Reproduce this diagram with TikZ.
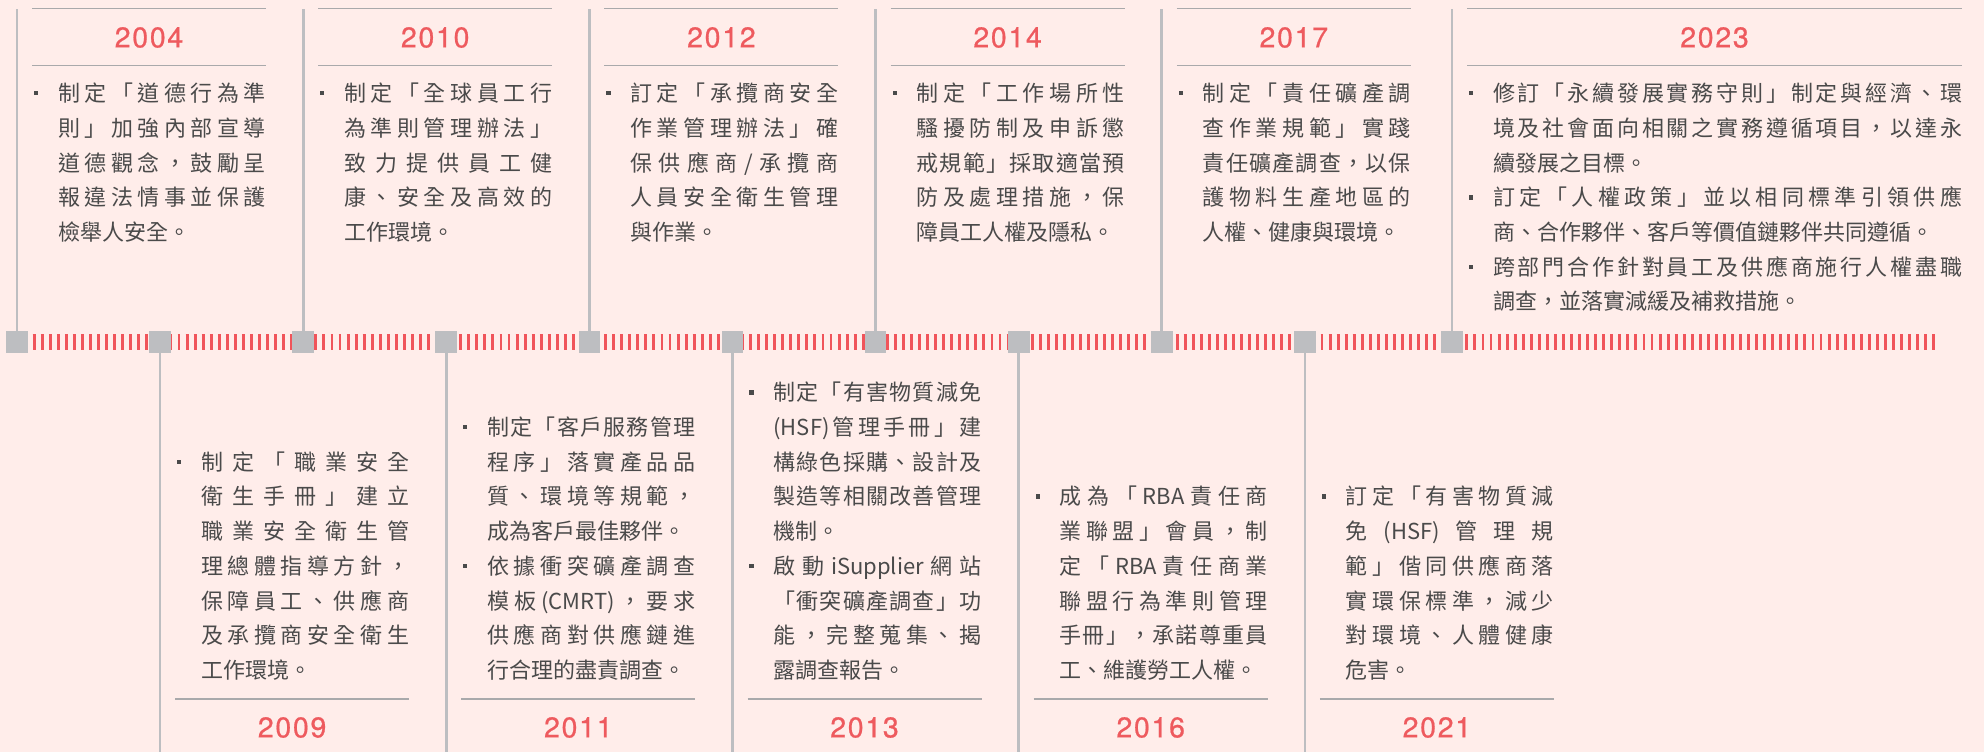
\documentclass[tikz,border=0pt]{standalone}
\usepackage{fontspec}
\newfontfamily\cjk{Noto Sans CJK TC}
\newfontfamily\yearfont[LetterSpace=6,FakeBold=0.7]{TeX Gyre Heros}
\definecolor{bg}{HTML}{FFEDEA}
\definecolor{yearred}{HTML}{EE5A5E}
\definecolor{tickred}{HTML}{F0545A}
\definecolor{sqgray}{HTML}{BDBEC1}
\definecolor{hlgray}{HTML}{A9A9AB}
\definecolor{txt}{HTML}{4A4A4A}
\newcommand\jglue{\hskip 0pt plus 1fil minus 5pt}
\ExplSyntaxOn
\NewDocumentCommand\jline{O{208}m}{\hbox~to~#1pt{\tl_map_inline:nn{#2}{##1\jglue}\unskip}}
\ExplSyntaxOff
\tikzset{
  tx/.style={anchor=base west, inner sep=0pt, outer sep=0pt, text=txt, font=\cjk\fontsize{22}{22}\selectfont},
  yr/.style={inner sep=0pt, outer sep=0pt, text=yearred, font=\yearfont\fontsize{28.5}{28.5}\selectfont},
  sq/.style={fill=sqgray, minimum size=21.7pt, inner sep=0pt, outer sep=0pt, draw=none},
  vl/.style={draw=sqgray, line width=2.7pt},
  hl/.style={draw=hlgray, line width=1.4pt},
  bul/.style={fill=txt, minimum size=4.2pt, inner sep=0pt, outer sep=0pt, draw=none},
  ticks/.style={draw=tickred, line width=16pt, dash pattern=on 2.9pt off 5.149pt},
}
\begin{document}
\begin{tikzpicture}[x=1pt,y=-1pt]
\useasboundingbox (0,0) rectangle (1984,752);
\fill[bg] (0,0) rectangle (1984,752);
% timeline ticks
\coordinate (tlstart) at (32.7,342);
\coordinate (tlend) at (1935,342);
\draw[ticks] (tlstart) -- (tlend);
% squares
\foreach \i/\x in {0/17,1/160.1,2/303.2,3/446.3,4/589.4,5/732.5,6/875.6,7/1018.7,8/1161.8,9/1304.9,10/1452}
  \node[sq] (s\i) at (\x,342) {};
\coordinate (tp) at (0,9);
\coordinate (bt) at (0,752);
\foreach \i in {0,2,4,6,8,10} \draw[vl] (s\i.north) -- (s\i.north |- tp);
\foreach \i in {1,3,5,7,9} \draw[vl] (s\i.south) -- (s\i.south |- bt);
% rules
\foreach \l in {32,318.2,604.4,890.6,1176.8} {
  \draw[hl] (\l,8.3) -- (\l+234,8.3);
  \draw[hl] (\l,65.3) -- (\l+234,65.3);
}
\draw[hl] (1467,8.3) -- (1962,8.3);
\draw[hl] (1467,65.3) -- (1962,65.3);
\foreach \l in {175.1,461.3,747.5,1033.7,1319.9}
  \draw[hl] (\l,699) -- (\l+234,699);
% years
\node[yr] (y2004) at (149,37.5) {2004};
\node[yr] (y2010) at (435.2,37.5) {2010};
\node[yr] (y2012) at (721.4,37.5) {2012};
\node[yr] (y2014) at (1007.6,37.5) {2014};
\node[yr] (y2017) at (1293.8,37.5) {2017};
\node[yr] (y2023) at (1714.5,37.5) {2023};
\node[yr] (y2009) at (292.1,727.5) {2009};
\node[yr] (y2011) at (578.3,727.5) {2011};
\node[yr] (y2013) at (864.5,727.5) {2013};
\node[yr] (y2016) at (1150.7,727.5) {2016};
\node[yr] (y2021) at (1436.9,727.5) {2021};
% 2004
\node[bul] (ab1) at (36,93.3) {};
\node[tx] (a1) at (58,101.7) {\jline{制定「道德行為準}};
\node[tx] (a2) at (58,136.4) {\jline{則」加強內部宣導}};
\node[tx] (a3) at (58,171.1) {\jline{道德觀念，鼓勵呈}};
\node[tx] (a4) at (58,205.8) {\jline{報違法情事並保護}};
\node[tx] (a5) at (58,240.5) {檢舉人安全。};
% 2010
\node[bul] (bb1) at (322.2,93.3) {};
\node[tx] (b1) at (344.2,101.7) {\jline{制定「全球員工行}};
\node[tx] (b2) at (344.2,136.4) {\jline{為準則管理辦法」}};
\node[tx] (b3) at (344.2,171.1) {\jline{致力提供員工健}};
\node[tx] (b4) at (344.2,205.8) {\jline{康、安全及高效的}};
\node[tx] (b5) at (344.2,240.5) {工作環境。};
% 2012
\node[bul] (cb1) at (608.4,93.3) {};
\node[tx] (c1) at (630.4,101.7) {\jline{訂定「承攬商安全}};
\node[tx] (c2) at (630.4,136.4) {\jline{作業管理辦法」確}};
\node[tx] (c3) at (630.4,171.1) {\jline{保供應商/承攬商}};
\node[tx] (c4) at (630.4,205.8) {\jline{人員安全衛生管理}};
\node[tx] (c5) at (630.4,240.5) {與作業。};
% 2014
\node[bul] (db1) at (894.6,93.3) {};
\node[tx] (d1) at (916.6,101.7) {\jline{制定「工作場所性}};
\node[tx] (d2) at (916.6,136.4) {\jline{騷擾防制及申訴懲}};
\node[tx] (d3) at (916.6,171.1) {\jline{戒規範」採取適當預}};
\node[tx] (d4) at (916.6,205.8) {\jline{防及處理措施，保}};
\node[tx] (d5) at (916.6,240.5) {障員工人權及隱私。};
% 2017
\node[bul] (eb1) at (1180.8,93.3) {};
\node[tx] (e1) at (1202.8,101.7) {\jline{制定「責任礦產調}};
\node[tx] (e2) at (1202.8,136.4) {\jline{查作業規範」實踐}};
\node[tx] (e3) at (1202.8,171.1) {\jline{責任礦產調查，以保}};
\node[tx] (e4) at (1202.8,205.8) {\jline{護物料生產地區的}};
\node[tx] (e5) at (1202.8,240.5) {人權、健康與環境。};
% 2023
\node[bul] (fb1) at (1471,93.3) {};
\node[bul] (fb2) at (1471,197.4) {};
\node[bul] (fb3) at (1471,266.8) {};
\node[tx] (f1) at (1493,101.7) {\jline[469]{修訂「永續發展實務守則」制定與經濟、環}};
\node[tx] (f2) at (1493,136.4) {\jline[469]{境及社會面向相關之實務遵循項目，以達永}};
\node[tx] (f3) at (1493,171.1) {續發展之目標。};
\node[tx] (f4) at (1493,205.8) {\jline[469]{訂定「人權政策」並以相同標準引領供應}};
\node[tx] (f5) at (1493,240.5) {商、合作夥伴、客戶等價值鏈夥伴共同遵循。};
\node[tx] (f6) at (1493,275.2) {\jline[469]{跨部門合作針對員工及供應商施行人權盡職}};
\node[tx] (f7) at (1493,309.9) {調查，並落實減緩及補救措施。};
% 2009
\node[bul] (gb1) at (179.1,461.8) {};
\node[tx] (g1) at (201.1,470.2) {\jline{制定「職業安全}};
\node[tx] (g2) at (201.1,504.9) {\jline{衛生手冊」建立}};
\node[tx] (g3) at (201.1,539.6) {\jline{職業安全衛生管}};
\node[tx] (g4) at (201.1,574.3) {\jline{理總體指導方針，}};
\node[tx] (g5) at (201.1,609.0) {\jline{保障員工、供應商}};
\node[tx] (g6) at (201.1,643.7) {\jline{及承攬商安全衛生}};
\node[tx] (g7) at (201.1,678.4) {工作環境。};
% 2011
\node[bul] (hb1) at (465.3,427.1) {};
\node[bul] (hb2) at (465.3,565.9) {};
\node[tx] (h1) at (487.3,435.5) {\jline{制定「客戶服務管理}};
\node[tx] (h2) at (487.3,470.2) {\jline{程序」落實產品品}};
\node[tx] (h3) at (487.3,504.9) {\jline{質、環境等規範，}};
\node[tx] (h4) at (487.3,539.6) {成為客戶最佳夥伴。};
\node[tx] (h5) at (487.3,574.3) {\jline{依據衝突礦產調查}};
\node[tx] (h6) at (487.3,609.0) {\jline{模板{(CMRT)}，要求}};
\node[tx] (h7) at (487.3,643.7) {\jline{供應商對供應鏈進}};
\node[tx] (h8) at (487.3,678.4) {行合理的盡責調查。};
% 2013
\node[bul] (ib1) at (751.5,392.4) {};
\node[bul] (ib2) at (751.5,565.9) {};
\node[tx] (i1) at (773.5,400.8) {\jline{制定「有害物質減免}};
\node[tx] (i2) at (773.5,435.5) {\jline{{(HSF)}管理手冊」建}};
\node[tx] (i3) at (773.5,470.2) {\jline{構綠色採購、設計及}};
\node[tx] (i4) at (773.5,504.9) {\jline{製造等相關改善管理}};
\node[tx] (i5) at (773.5,539.6) {機制。};
\node[tx] (i6) at (773.5,574.3) {\jline{啟動{iSupplier}網站}};
\node[tx] (i7) at (773.5,609.0) {\jline{「衝突礦產調查」功}};
\node[tx] (i8) at (773.5,643.7) {\jline{能，完整蒐集、揭}};
\node[tx] (i9) at (773.5,678.4) {露調查報告。};
% 2016
\node[bul] (jb1) at (1037.7,496.5) {};
\node[tx] (j1) at (1059.7,504.9) {\jline{成為「{RBA}責任商}};
\node[tx] (j2) at (1059.7,539.6) {\jline{業聯盟」會員，制}};
\node[tx] (j3) at (1059.7,574.3) {\jline{定「{RBA}責任商業}};
\node[tx] (j4) at (1059.7,609.0) {\jline{聯盟行為準則管理}};
\node[tx] (j5) at (1059.7,643.7) {\jline{手冊」，承諾尊重員}};
\node[tx] (j6) at (1059.7,678.4) {工、維護勞工人權。};
% 2021
\node[bul] (kb1) at (1323.9,496.5) {};
\node[tx] (k1) at (1345.9,504.9) {\jline{訂定「有害物質減}};
\node[tx] (k2) at (1345.9,539.6) {\jline{免{(HSF)}管理規}};
\node[tx] (k3) at (1345.9,574.3) {\jline{範」偕同供應商落}};
\node[tx] (k4) at (1345.9,609.0) {\jline{實環保標準，減少}};
\node[tx] (k5) at (1345.9,643.7) {\jline{對環境、人體健康}};
\node[tx] (k6) at (1345.9,678.4) {危害。};
\end{tikzpicture}
\end{document}
